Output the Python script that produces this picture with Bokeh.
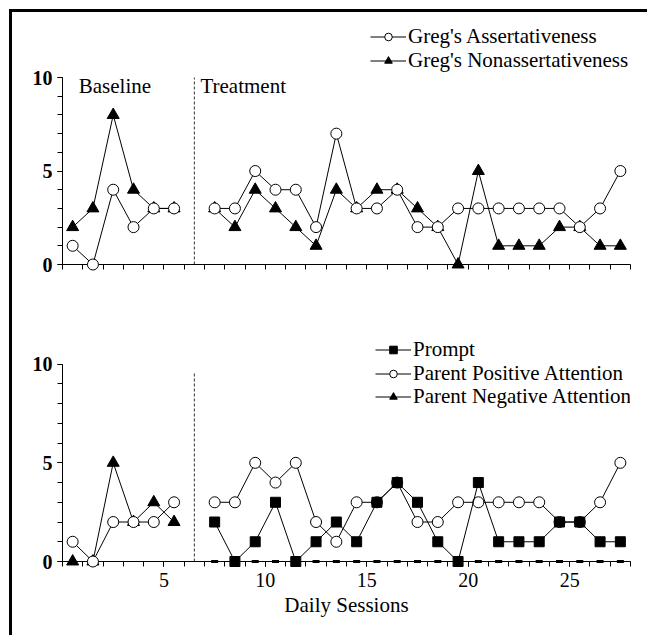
from bokeh.embed import file_html
from bokeh.layouts import column
from bokeh.models import FixedTicker, Label, Legend, LegendItem, Range1d
from bokeh.plotting import figure
from bokeh.resources import INLINE

SERIF = "Liberation Serif"

# Sessions (session 7 is the phase change between baseline and treatment)
baseline_sessions = [1, 2, 3, 4, 5, 6]
treatment_sessions = list(range(8, 29))

# Upper panel: Greg's behaviour
assert_baseline = [1, 0, 4, 2, 3, 3]
assert_treatment = [3, 3, 5, 4, 4, 2, 7, 3, 3, 4, 2, 2, 3, 3, 3, 3, 3, 3, 2, 3, 5]
nonassert_baseline = [2, 3, 8, 4, 3, 3]
nonassert_treatment = [3, 2, 4, 3, 2, 1, 4, 3, 4, 4, 3, 2, 0, 5, 1, 1, 1, 2, 2, 1, 1]

# Lower panel: parent behaviour
prompt_treatment = [2, 0, 1, 3, 0, 1, 2, 1, 3, 4, 3, 1, 0, 4, 1, 1, 1, 2, 2, 1, 1]
positive_baseline = [1, 0, 2, 2, 2, 3]
positive_treatment = [3, 3, 5, 4, 5, 2, 1, 3, 3, 4, 2, 2, 3, 3, 3, 3, 3, 2, 2, 3, 5]
negative_baseline = [0, 0, 5, 2, 3, 2]
negative_treatment = [0] * 21

x_tick_labels = [5, 10, 15, 20, 25]
y_tick_labels = [0, 5, 10]
phase_names = ["Baseline", "Treatment"]

N_SLOTS = 28
NAN = float("nan")
ROW_H = 25  # height of one legend row in px


def centers(sessions):
    # each session is drawn in the middle of its slot between two ticks
    return [s - 0.5 for s in sessions]


def phased(base, treat):
    xs = centers(baseline_sessions) + [NAN] + centers(treatment_sessions)
    ys = list(base) + [NAN] + list(treat)
    return xs, ys


PHASE_X = (centers(baseline_sessions)[-1] + centers(treatment_sessions)[0]) / 2


def make_panel(height, y_end, left, right, top, bottom, show_labels):
    p = figure(width=635, height=height,
               x_range=Range1d(0, N_SLOTS), y_range=Range1d(0, y_end),
               output_backend="svg", toolbar_location=None,
               min_border_left=left, min_border_right=right,
               min_border_top=top, min_border_bottom=bottom)
    p.grid.visible = False
    p.outline_line_color = None
    p.background_fill_color = "white"
    p.border_fill_color = "white"

    xa = p.xaxis[0]
    if show_labels:
        xa.ticker = FixedTicker(ticks=x_tick_labels, minor_ticks=list(range(N_SLOTS + 1)))
        xa.major_label_text_font = SERIF
        xa.major_label_text_font_size = "20px"
        xa.major_label_text_color = "black"
        xa.major_label_standoff = 6
    else:
        xa.ticker = FixedTicker(ticks=[], minor_ticks=list(range(N_SLOTS + 1)))
    xa.axis_line_color = "black"
    xa.major_tick_line_color = "black"
    xa.minor_tick_line_color = "black"
    xa.major_tick_in = 0
    xa.major_tick_out = 5
    xa.minor_tick_in = 0
    xa.minor_tick_out = 5

    ya = p.yaxis[0]
    ya.bounds = (0, 10)
    ya.ticker = FixedTicker(ticks=y_tick_labels, minor_ticks=list(range(11)))
    ya.major_label_text_font = SERIF
    ya.major_label_text_font_style = "bold"
    ya.major_label_text_font_size = "20px"
    ya.major_label_text_color = "black"
    ya.major_label_standoff = 5
    ya.axis_line_color = "black"
    ya.major_tick_line_color = "black"
    ya.minor_tick_line_color = "black"
    ya.major_tick_in = 0
    ya.major_tick_out = 5
    ya.minor_tick_in = 0
    ya.minor_tick_out = 5
    return p


# markers sit on top of the axes so that points at zero are drawn in full
def line(p, xs, ys):
    return p.line(xs, ys, line_color="black", line_width=1, level="overlay")


def dots(p, xs, ys, marker, size, fill, width=1):
    return p.scatter(xs, ys, marker=marker, size=size, fill_color=fill,
                     line_color="black", line_width=width, level="overlay")


def series(p, base, treat, marker, size, fill):
    xs, ys = phased(base, treat)
    return [line(p, xs, ys), dots(p, xs, ys, marker, size, fill)]


def legend_rows(p, entries, x, frame_h, centers_px):
    # one legend per row so that rows sit at an exact pitch;
    # centers_px are measured down from the top of the frame
    for (label, renderers), c in zip(entries, centers_px):
        lg = Legend(items=[LegendItem(label=label, renderers=renderers)],
                    location=(x, frame_h - c - ROW_H / 2),
                    border_line_color=None, background_fill_alpha=0,
                    label_text_font=SERIF, label_text_font_size="21px",
                    label_text_color="black",
                    glyph_width=36, glyph_height=19, label_height=ROW_H,
                    label_standoff=2, spacing=0, padding=0, margin=0)
        p.add_layout(lg)


# ---- upper panel ----
# frame: 9 px below the figure top, y 0..13 over 243 px
top = make_panel(320, 13.0, 50, 17, 9, 68, show_labels=False)
top.segment(x0=[PHASE_X], y0=[0], x1=[PHASE_X], y1=[10],
            line_color="#333333", line_width=1, line_dash="3 2")
r_non = series(top, nonassert_baseline, nonassert_treatment, "triangle", 12, "black")
r_ass = series(top, assert_baseline, assert_treatment, "circle", 11, "white")
for name, xpos in zip(phase_names, [0.8, PHASE_X + 0.3]):
    top.add_layout(Label(x=xpos, y=9.57, text=name, text_font=SERIF,
                         text_font_size="21px", text_color="black",
                         text_baseline="alphabetic"))
legend_rows(top, [("Greg's Assertativeness", r_ass),
                  ("Greg's Nonassertativeness", r_non)],
            308, 243, [15.8, 39.3])

# ---- lower panel ----
bot = make_panel(303, 11.3, 45, 6, 6, 74, show_labels=True)
bot.xaxis.axis_label = "Daily Sessions"
bot.xaxis.axis_label_text_font = SERIF
bot.xaxis.axis_label_text_font_size = "21px"
bot.xaxis.axis_label_text_font_style = "normal"
bot.xaxis.axis_label_text_color = "black"
bot.xaxis.axis_label_standoff = 3
bot.segment(x0=[PHASE_X], y0=[0], x1=[PHASE_X], y1=[9.6],
            line_color="#333333", line_width=1, line_dash="3 2")

bx = centers(baseline_sessions)
tx = centers(treatment_sessions)
r_neg = [line(bot, bx, negative_baseline),
         dots(bot, bx, negative_baseline, "triangle", 12, "black")]
line(bot, tx, negative_treatment)
dots(bot, tx, negative_treatment, "dash", 7, "black", width=3)
r_pos = series(bot, positive_baseline, positive_treatment, "circle", 11, "white")
r_pr = [line(bot, tx, prompt_treatment),
        dots(bot, tx, prompt_treatment, "square", 10, "black")]
legend_rows(bot, [("Prompt", r_pr),
                  ("Parent Positive Attention", r_pos),
                  ("Parent Negative Attention", r_neg)],
            313, 223, [11.9, 35.3, 58.7])

layout = column(top, bot, styles={"border-left": "3px solid black",
                                   "border-top": "3px solid black",
                                   "margin-left": "9px", "margin-top": "9px"})

with open("out.html", "w") as f:
    f.write(file_html(layout, INLINE))
